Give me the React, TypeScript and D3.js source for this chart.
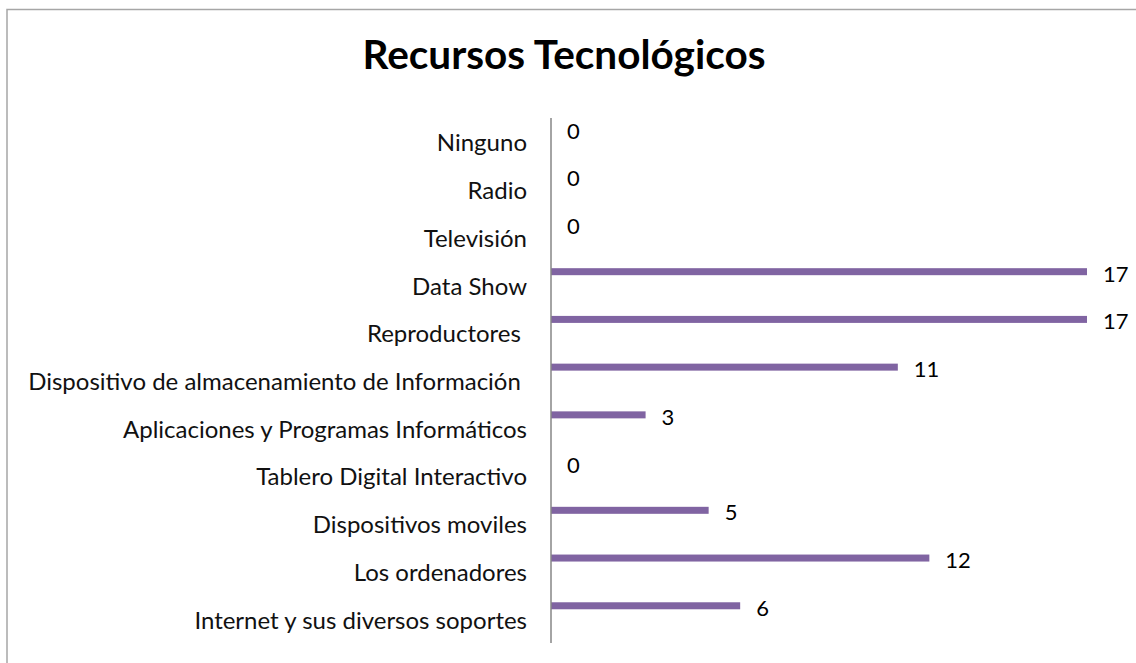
import React from "react";
import * as d3 from "d3";

const categories = [
  "Ninguno",
  "Radio",
  "Televisión",
  "Data Show",
  "Reproductores ",
  "Dispositivo de almacenamiento de Información ",
  "Aplicaciones y Programas Informáticos",
  "Tablero Digital Interactivo",
  "Dispositivos moviles",
  "Los ordenadores",
  "Internet y sus diversos soportes",
];
const values = [0, 0, 0, 17, 17, 11, 3, 0, 5, 12, 6];
const title = "Recursos Tecnológicos";

const W = 1136;
const H = 663;
const FONT = "Lato, 'Open Sans', sans-serif";

export default function App() {
  const axisX = 551;
  const top = 118;
  const bottom = 643;
  const x = d3.scaleLinear().domain([0, 17]).range([axisX, 1087]);
  const y = d3.scaleBand<string>().domain(categories).range([top, bottom]);
  const bw = y.bandwidth();
  const barOff = 7;
  const barH = 7;

  return (
    <svg
      width={W}
      height={H}
      style={{ position: "absolute", left: 0, top: 0, display: "block" }}
    >
      <rect x={0} y={0} width={W} height={H} fill="#fff" />
      <rect
        x={7}
        y={9.5}
        width={W + 20}
        height={H + 20}
        fill="none"
        stroke="#a6a6a6"
        strokeWidth={1.5}
      />
      <text
        x={564}
        y={69}
        textAnchor="middle"
        fontFamily={FONT}
        fontWeight={700}
        fontSize={40.5}
        fill="#000"
      >
        {title}
      </text>
      {categories.map((c, i) => {
        const y0 = y(c)!;
        const v = values[i];
        return (
          <g key={c}>
            {v > 0 && (
              <rect
                x={x(0)}
                y={y0 + barOff}
                width={x(v) - x(0)}
                height={barH}
                fill="#8064A2"
              />
            )}
            <text
              x={x(v) + 16}
              y={y0 + barOff + barH / 2 + 1.5}
              dominantBaseline="central"
              fontFamily={FONT}
              fontSize={22}
              fill="#000"
            >
              {v}
            </text>
            <text
              x={527}
              y={y0 + bw / 2}
              dominantBaseline="central"
              textAnchor="end"
              fontFamily={FONT}
              fontSize={24}
              fill="#111"
              style={{ whiteSpace: "pre" }}
            >
              {c}
            </text>
          </g>
        );
      })}
      <line
        x1={axisX}
        x2={axisX}
        y1={top}
        y2={bottom}
        stroke="#868686"
        strokeWidth={1.5}
      />
    </svg>
  );
}
